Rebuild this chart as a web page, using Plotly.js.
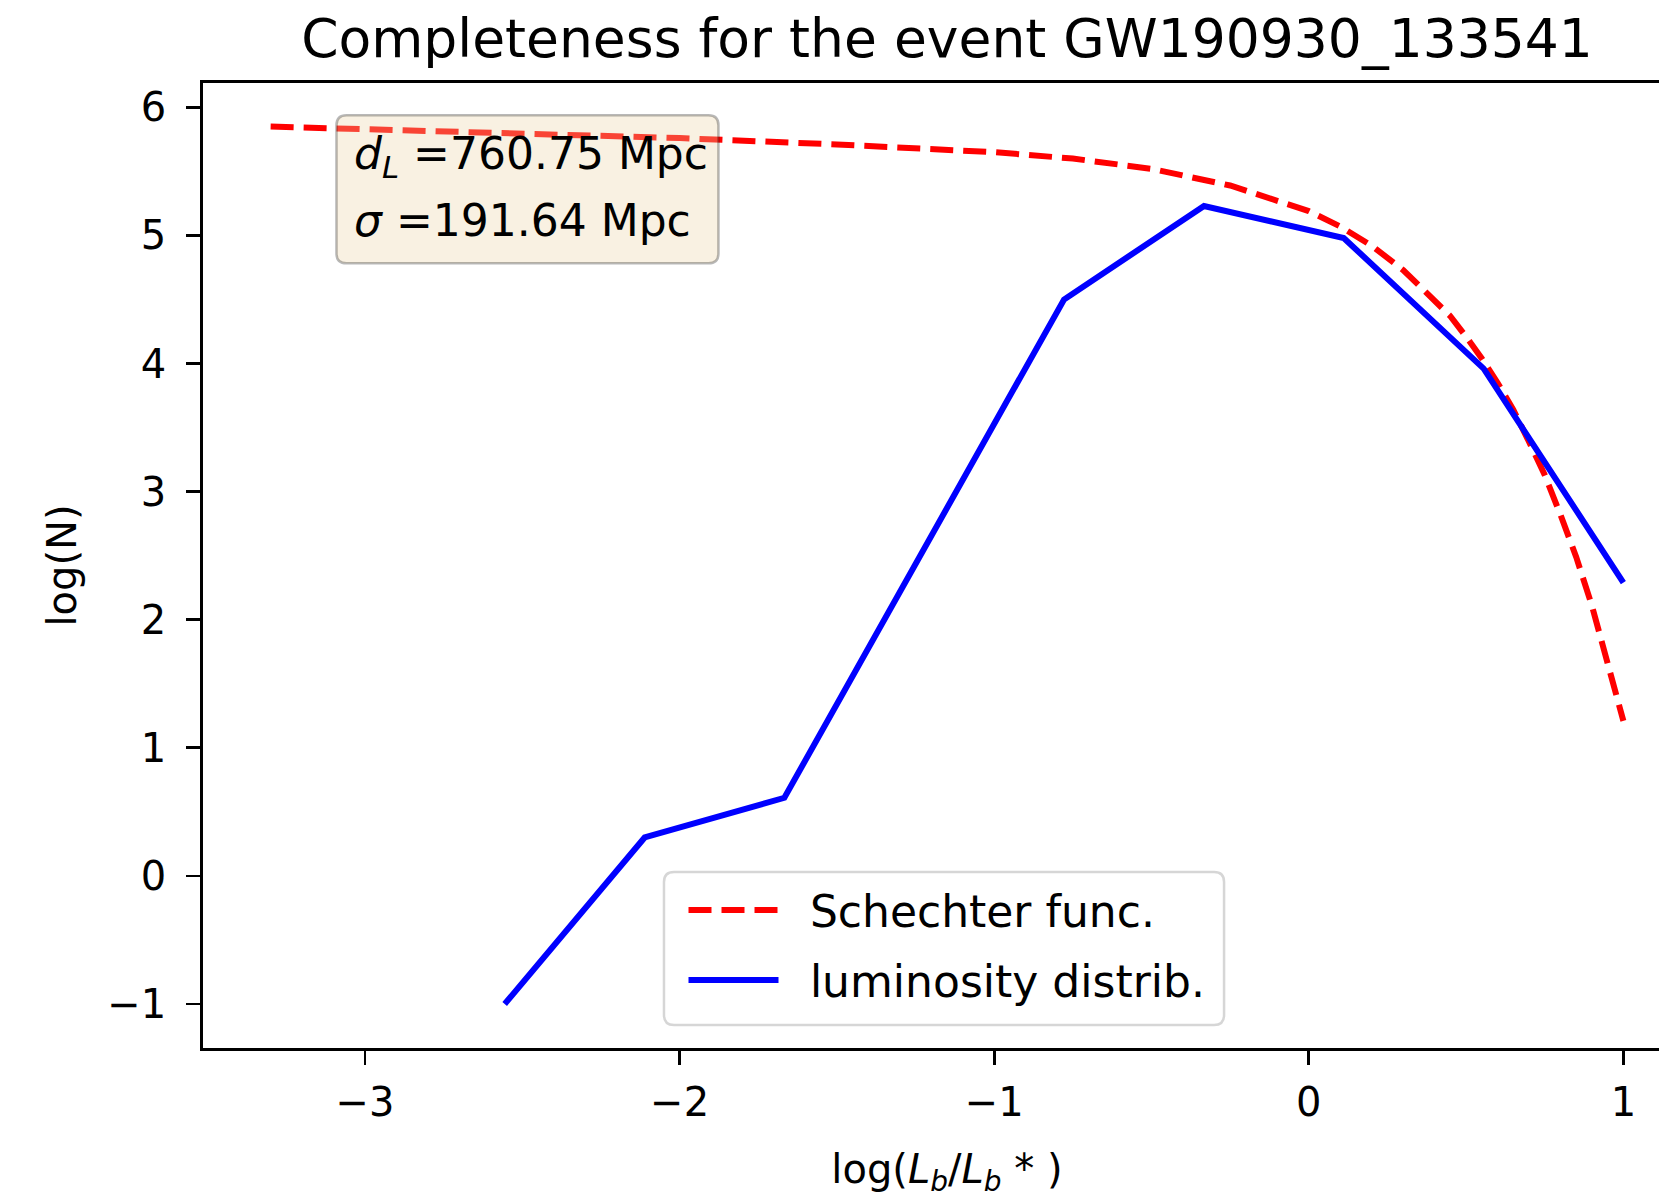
<!DOCTYPE html>
<html>
<head>
<meta charset="utf-8">
<script src="https://cdn.plot.ly/plotly-3.0.1.min.js"></script>
<style>
  html, body { margin: 0; padding: 0; overflow: hidden; background: #fff; }
  #chart { width: 1760px; height: 1198px; }
</style>
</head>
<body>
<div id="chart"></div>
<script>
// Schechter function curve
const schechterX = [-3.3, -3.0, -2.5, -2.0, -1.5, -1.0, -0.75, -0.5, -0.25, 0.0, 0.1, 0.2, 0.3, 0.4, 0.45, 0.5, 0.55, 0.6, 0.65, 0.7, 0.75, 0.8, 0.85, 0.9, 0.95, 1.0];
const schechterY = [5.85, 5.83, 5.79, 5.76, 5.71, 5.65, 5.60, 5.52, 5.39, 5.19, 5.07, 4.92, 4.73, 4.50, 4.37, 4.21, 4.04, 3.85, 3.64, 3.39, 3.13, 2.82, 2.49, 2.11, 1.68, 1.21];

// Luminosity distribution
const lumX = [-2.556, -2.111, -1.667, -1.222, -0.778, -0.333, 0.111, 0.556, 1.0];
const lumY = [-1.0, 0.30, 0.61, 2.55, 4.50, 5.23, 4.98, 3.96, 2.29];

// Tick labels
const xTicks = [-3, -2, -1, 0, 1];
const yTicks = [-1, 0, 1, 2, 3, 4, 5, 6];

const titleText = 'Completeness for the event GW190930_133541';
const boxLines = ['<i>d<sub>L</sub></i> =760.75 Mpc', '<i>σ</i> =191.64 Mpc'];
const seriesNames = ['Schechter func.', 'luminosity distrib.'];

const FONT = 'DejaVu Sans, Verdana, sans-serif';
const LEGEND_GAP = '\u2002\u200A'; // spacing between legend sample and label

// plot-area geometry (pixels)
const W = 1760, H = 1198;
const M = { l: 203, r: 69, t: 83, b: 150 };
const PW = W - M.l - M.r, PH = H - M.t - M.b;

// rounded rectangle in paper coordinates, radius in pixels
function roundedRect(x0, y0, x1, y1, rpx) {
  const rx = rpx / PW, ry = rpx / PH;
  return `M${x0 + rx},${y0} L${x1 - rx},${y0} Q${x1},${y0} ${x1},${y0 + ry} ` +
         `L${x1},${y1 - ry} Q${x1},${y1} ${x1 - rx},${y1} ` +
         `L${x0 + rx},${y1} Q${x0},${y1} ${x0},${y1 - ry} ` +
         `L${x0},${y0 + ry} Q${x0},${y0} ${x0 + rx},${y0} Z`;
}

const traces = [
  {
    x: schechterX, y: schechterY, type: 'scatter', mode: 'lines',
    name: LEGEND_GAP + seriesNames[0], legendgroup: 'a',
    line: { color: '#ff0000', width: 6, dash: '23px,10px' }
  },
  {
    x: lumX, y: lumY, type: 'scatter', mode: 'lines',
    name: LEGEND_GAP + seriesNames[1], legendgroup: 'b',
    line: { color: '#0000ff', width: 6 }
  }
];

const axisCommon = {
  showgrid: false, zeroline: false,
  showline: true, linecolor: '#000', linewidth: 2.7, mirror: true,
  ticks: 'outside', ticklen: 14, tickwidth: 2.7, tickcolor: '#000',
  tickfont: { family: FONT, size: 40, color: '#000' },
  automargin: false
};

const layout = {
  width: W, height: H,
  margin: M,
  paper_bgcolor: '#fff', plot_bgcolor: '#fff',
  font: { family: FONT, color: '#000' },
  title: {
    text: titleText,
    font: { family: FONT, size: 53.5, color: '#000' },
    x: (M.l + PW / 2) / W, xanchor: 'center',
    y: 1 - 38 / H, yanchor: 'middle'
  },
  xaxis: Object.assign({}, axisCommon, {
    range: [-3.515, 1.215],
    tickmode: 'array', tickvals: xTicks,
    ticklabelstandoff: 3,
    title: { text: 'log(<i>L<sub>b</sub></i>/<i>L<sub>b</sub></i> * )', font: { family: FONT, size: 40, color: '#000' }, standoff: 32 }
  }),
  yaxis: Object.assign({}, axisCommon, {
    range: [-1.3435, 6.19],
    tickmode: 'array', tickvals: yTicks,
    ticklabelstandoff: 12,
    title: { text: 'log(N)', font: { family: FONT, size: 40, color: '#000' }, standoff: 19 }
  }),
  showlegend: true,
  legend: {
    x: 0.5, xanchor: 'center', y: 0.1064, yanchor: 'middle',
    bgcolor: 'rgba(255,255,255,0)', borderwidth: 0,
    font: { family: FONT, size: 44, color: '#000' },
    itemwidth: 90,
    tracegroupgap: 10
  },
  shapes: [
    {
      type: 'path', xref: 'paper', yref: 'paper', layer: 'above',
      path: roundedRect(0.0897, 0.8131, 0.3464, 0.9665, 10),
      fillcolor: 'rgba(235,212,165,0.32)',
      line: { color: 'rgba(0,0,0,0.28)', width: 2.5 }
    },
    {
      type: 'path', xref: 'paper', yref: 'paper', layer: 'above',
      path: roundedRect(0.3098, 0.0238, 0.6862, 0.1824, 10),
      fillcolor: 'rgba(255,255,255,0.8)',
      line: { color: '#d6d6d6', width: 2.5 }
    }
  ],
  annotations: [
    {
      xref: 'paper', yref: 'paper', x: 0.1001, y: 0.9237,
      xanchor: 'left', yanchor: 'middle', align: 'left',
      text: boxLines[0], showarrow: false,
      font: { family: FONT, size: 44, color: '#000' }
    },
    {
      xref: 'paper', yref: 'paper', x: 0.1001, y: 0.8579,
      xanchor: 'left', yanchor: 'middle', align: 'left',
      text: boxLines[1], showarrow: false,
      font: { family: FONT, size: 44, color: '#000' }
    }
  ]
};

Plotly.newPlot('chart', traces, layout, { staticPlot: true, displayModeBar: false });
</script>
</body>
</html>
